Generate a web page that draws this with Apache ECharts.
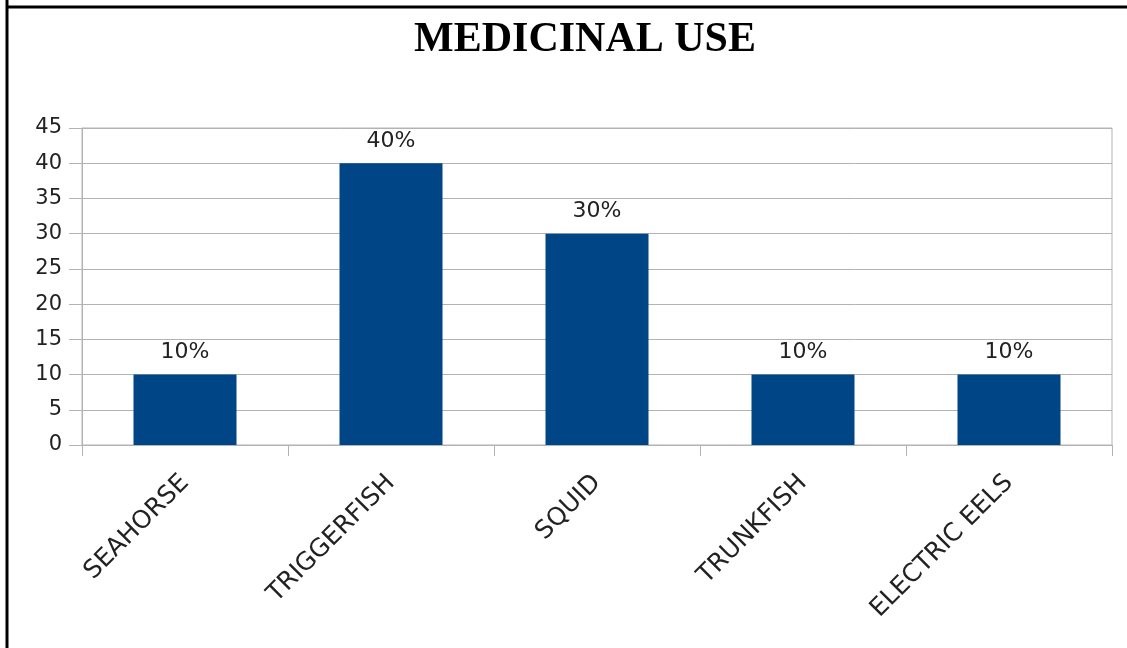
<!DOCTYPE html>
<html>
<head>
<meta charset="utf-8">
<script src="https://cdn.jsdelivr.net/npm/echarts@6/dist/echarts.min.js"></script>
<style>
html,body{margin:0;padding:0;background:#fff;}
#chart{width:1127px;height:648px;}
</style>
</head>
<body>
<div id="chart"></div>
<script>
const titleText = "MEDICINAL USE";
const categories = ["SEAHORSE", "TRIGGERFISH", "SQUID", "TRUNKFISH", "ELECTRIC EELS"];
const values = [10, 40, 30, 10, 10];
const barLabels = ["10%", "40%", "30%", "10%", "10%"];
const yMin = 0, yMax = 45, yStep = 5;

const chart = echarts.init(document.getElementById('chart'), null, {renderer: 'canvas'});
const grey = '#b3b3b3';
chart.setOption({
  animation: false,
  backgroundColor: '#ffffff',
  title: {
    text: titleText,
    left: 580,
    top: 14,
    textAlign: 'center',
    textStyle: {fontFamily: 'Liberation Serif', fontWeight: 'bold', fontSize: 42, color: '#000'}
  },
  graphic: [
    {type: 'line', shape: {x1: 7, y1: 0, x2: 7, y2: 648}, style: {stroke: '#000', lineWidth: 3}},
    {type: 'line', shape: {x1: 7, y1: 7, x2: 1127, y2: 7}, style: {stroke: '#000', lineWidth: 3}}
  ],
  grid: [
    {left: 82, right: 15, top: 128, bottom: 203, show: true, borderColor: grey, borderWidth: 1, containLabel: false}
  ],
  xAxis: [{
    type: 'category',
    data: categories,
    boundaryGap: true,
    axisLine: {show: true, lineStyle: {color: grey, width: 1}},
    axisTick: {show: true, length: 11, alignWithLabel: false, lineStyle: {color: grey, width: 1}},
    axisLabel: {rotate: 45, margin: 34, interval: 0, fontFamily: 'DejaVu Sans', fontSize: 25, color: '#222'},
    splitLine: {show: false}
  }],
  yAxis: [{
    type: 'value',
    min: yMin, max: yMax, interval: yStep,
    axisLine: {show: true, onZero: false, lineStyle: {color: grey, width: 1}},
    axisTick: {show: true, inside: false, length: 13, lineStyle: {color: grey, width: 1}},
    axisLabel: {margin: 20, fontFamily: 'DejaVu Sans', fontSize: 21, color: '#222'},
    splitLine: {show: true, lineStyle: {color: grey, width: 1}}
  }],
  series: [{
    type: 'bar',
    data: values,
    barWidth: '50%',
    itemStyle: {color: '#004586'},
    label: {
      show: true,
      position: 'top',
      distance: 11,
      fontFamily: 'DejaVu Sans',
      fontSize: 22,
      color: '#222',
      formatter: p => barLabels[p.dataIndex]
    }
  }]
});
</script>
</body>
</html>
